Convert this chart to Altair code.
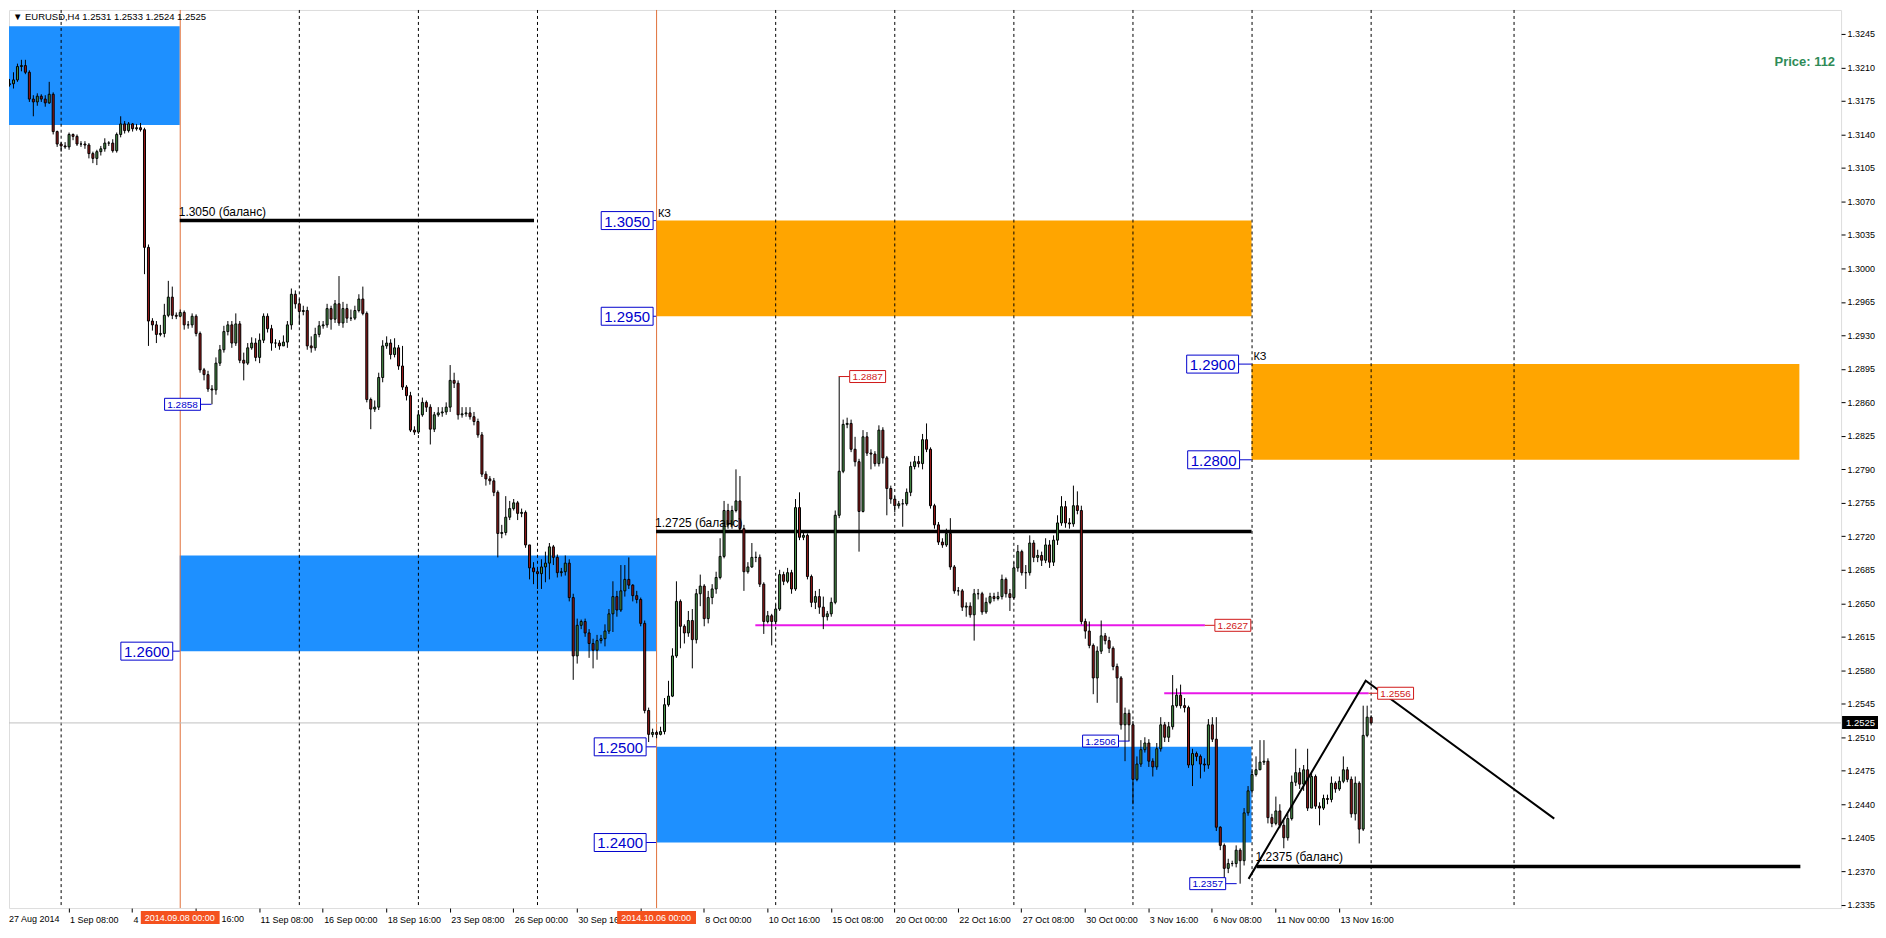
import json
import altair as alt
import pandas as pd

FONT = "Liberation Sans"
W, H = 1836, 900
X_DOMAIN = [1.25, 460.25]
Y_DOMAIN = [1.23315, 1.32701]

# ---------------- candle data (H4, prices in 1/10000) ----------------
first_open = 13192
closes = [
    13193, 13197, 13211, 13212, 13205, 13177, 13174, 13180, 13177, 13173,
    13182, 13143, 13130, 13128, 13127, 13140, 13138, 13130, 13130, 13129,
    13120, 13115, 13122, 13125, 13131, 13131, 13123, 13140, 13151, 13144,
    13151, 13146, 13147, 13145, 13022, 12945, 12941, 12931, 12932, 12951,
    12970, 12951, 12950, 12954, 12941, 12941, 12950, 12932, 12894, 12889,
    12874, 12873, 12901, 12915, 12934, 12941, 12922, 12942, 12904, 12901,
    12917, 12922, 12907, 12925, 12950, 12937, 12922, 12922, 12919, 12923,
    12941, 12973, 12963, 12955, 12956, 12919, 12917, 12931, 12940, 12941,
    12958, 12947, 12963, 12943, 12958, 12948, 12948, 12956, 12968, 12953,
    12863, 12853, 12855, 12886, 12919, 12922, 12910, 12917, 12898, 12876,
    12867, 12831, 12829, 12847, 12860, 12855, 12832, 12847, 12849, 12850,
    12855, 12883, 12880, 12847, 12848, 12849, 12845, 12840, 12826, 12785,
    12780, 12778, 12766, 12723, 12724, 12740, 12749, 12755, 12744, 12745,
    12711, 12687, 12683, 12681, 12688, 12692, 12709, 12698, 12682, 12683,
    12692, 12656, 12595, 12627, 12631, 12619, 12608, 12601, 12611, 12613,
    12621, 12639, 12657, 12643, 12663, 12675, 12669, 12658, 12654, 12629,
    12538, 12513, 12515, 12513, 12516, 12544, 12553, 12595, 12652, 12626,
    12619, 12632, 12612, 12660, 12668, 12634, 12656, 12665, 12677, 12699,
    12747, 12732, 12747, 12757, 12728, 12683, 12688, 12698, 12698, 12670,
    12631, 12637, 12631, 12644, 12680, 12673, 12682, 12665, 12750, 12719,
    12721, 12678, 12651, 12657, 12646, 12636, 12639, 12651, 12742, 12788,
    12837, 12838, 12811, 12798, 12746, 12824, 12807, 12806, 12796, 12831,
    12802, 12770, 12759, 12752, 12754, 12754, 12766, 12793, 12798, 12796,
    12821, 12811, 12752, 12732, 12714, 12711, 12723, 12688, 12663, 12663,
    12646, 12647, 12638, 12660, 12660, 12641, 12651, 12657, 12655, 12657,
    12675, 12660, 12656, 12687, 12704, 12682, 12682, 12713, 12698, 12700,
    12695, 12711, 12693, 12716, 12734, 12751, 12734, 12733, 12752, 12747,
    12631, 12621, 12606, 12572, 12600, 12616, 12611, 12603, 12584, 12572,
    12523, 12535, 12523, 12466, 12482, 12497, 12504, 12485, 12479, 12498,
    12523, 12510, 12521, 12543, 12554, 12543, 12541, 12481, 12493, 12490,
    12482, 12481, 12523, 12508, 12416, 12397, 12373, 12378, 12378, 12392,
    12381, 12431, 12454, 12471, 12476, 12484, 12485, 12426, 12420, 12433,
    12418, 12405, 12425, 12463, 12473, 12461, 12476, 12436, 12469, 12438,
    12436, 12446, 12445, 12462, 12456, 12464, 12476, 12466, 12430, 12462,
    12414, 12512, 12531, 12525,
]
highs = [
    13198, 13205, 13214, 13218, 13218, 13207, 13181, 13183, 13182, 13181,
    13195, 13184, 13144, 13132, 13132, 13142, 13141, 13140, 13133, 13133,
    13131, 13122, 13124, 13128, 13136, 13133, 13135, 13142, 13159, 13154,
    13153, 13152, 13151, 13152, 13147, 13025, 12948, 12945, 12941, 12963,
    12987, 12981, 12954, 12957, 12956, 12945, 12953, 12952, 12934, 12896,
    12893, 12878, 12907, 12920, 12940, 12945, 12945, 12953, 12945, 12912,
    12922, 12928, 12927, 12932, 12953, 12953, 12941, 12926, 12925, 12930,
    12945, 12979, 12977, 12968, 12961, 12960, 12929, 12938, 12945, 12945,
    12963, 12961, 12967, 12992, 12965, 12963, 12957, 12961, 12973, 12981,
    12955, 12865, 12862, 12891, 12925, 12929, 12926, 12927, 12920, 12919,
    12878, 12871, 12835, 12852, 12865, 12862, 12858, 12850, 12855, 12855,
    12860, 12899, 12891, 12883, 12855, 12855, 12855, 12850, 12843, 12829,
    12788, 12783, 12781, 12768, 12732, 12762, 12757, 12759, 12757, 12749,
    12747, 12711, 12693, 12687, 12696, 12704, 12713, 12711, 12701, 12687,
    12700, 12696, 12660, 12634, 12633, 12634, 12623, 12613, 12617, 12617,
    12628, 12644, 12673, 12663, 12690, 12690, 12698, 12670, 12663, 12656,
    12632, 12541, 12519, 12517, 12521, 12551, 12569, 12603, 12673, 12654,
    12628, 12642, 12644, 12665, 12680, 12670, 12663, 12670, 12683, 12718,
    12757, 12754, 12752, 12790, 12783, 12732, 12693, 12713, 12704, 12701,
    12672, 12642, 12639, 12649, 12685, 12683, 12687, 12685, 12759, 12766,
    12726, 12723, 12680, 12663, 12665, 12657, 12642, 12656, 12747, 12887,
    12842, 12844, 12842, 12824, 12801, 12831, 12829, 12811, 12809, 12836,
    12834, 12804, 12773, 12762, 12757, 12759, 12770, 12798, 12804, 12804,
    12827, 12838, 12813, 12754, 12735, 12718, 12728, 12739, 12690, 12667,
    12665, 12651, 12651, 12665, 12665, 12662, 12656, 12661, 12661, 12662,
    12680, 12677, 12665, 12693, 12711, 12706, 12690, 12721, 12716, 12706,
    12704, 12718, 12716, 12721, 12742, 12762, 12757, 12739, 12773, 12767,
    12752, 12634, 12631, 12608, 12605, 12632, 12619, 12615, 12605, 12587,
    12574, 12541, 12539, 12527, 12490, 12507, 12510, 12508, 12488, 12504,
    12531, 12526, 12526, 12575, 12561, 12565, 12551, 12543, 12498, 12495,
    12492, 12488, 12529, 12531, 12531, 12417, 12399, 12383, 12381, 12397,
    12394, 12436, 12459, 12477, 12490, 12507, 12507, 12488, 12430, 12448,
    12440, 12423, 12430, 12470, 12498, 12478, 12481, 12498, 12474, 12471,
    12442, 12450, 12450, 12469, 12464, 12469, 12490, 12479, 12469, 12469,
    12464, 12543, 12543, 12533,
]
lows = [
    13190, 13188, 13195, 13206, 13203, 13174, 13159, 13170, 13174, 13169,
    13172, 13140, 13127, 13122, 13125, 13124, 13134, 13128, 13127, 13125,
    13115, 13110, 13108, 13118, 13122, 13128, 13121, 13121, 13137, 13141,
    13142, 13143, 13144, 13143, 12994, 12919, 12935, 12922, 12929, 12928,
    12949, 12947, 12947, 12949, 12936, 12937, 12938, 12929, 12891, 12883,
    12871, 12858, 12868, 12898, 12912, 12930, 12917, 12919, 12901, 12883,
    12899, 12915, 12903, 12901, 12922, 12933, 12914, 12917, 12915, 12919,
    12917, 12936, 12958, 12941, 12951, 12915, 12912, 12914, 12928, 12937,
    12938, 12936, 12943, 12940, 12938, 12943, 12945, 12946, 12954, 12951,
    12860, 12832, 12850, 12852, 12881, 12916, 12905, 12907, 12894, 12873,
    12862, 12829, 12826, 12827, 12845, 12850, 12816, 12829, 12845, 12845,
    12847, 12850, 12875, 12842, 12844, 12845, 12842, 12836, 12823, 12782,
    12773, 12774, 12762, 12698, 12718, 12721, 12737, 12747, 12737, 12740,
    12708, 12675, 12670, 12665, 12665, 12672, 12675, 12690, 12677, 12678,
    12679, 12652, 12570, 12587, 12623, 12615, 12593, 12582, 12591, 12608,
    12605, 12618, 12620, 12636, 12641, 12657, 12665, 12652, 12650, 12626,
    12535, 12505, 12510, 12509, 12512, 12513, 12542, 12552, 12593, 12603,
    12608, 12615, 12582, 12608, 12647, 12626, 12629, 12649, 12660, 12675,
    12697, 12728, 12728, 12745, 12726, 12663, 12681, 12687, 12693, 12667,
    12618, 12629, 12606, 12628, 12642, 12669, 12671, 12660, 12663, 12716,
    12716, 12675, 12646, 12644, 12639, 12623, 12632, 12636, 12649, 12739,
    12786, 12833, 12808, 12793, 12704, 12745, 12804, 12790, 12793, 12793,
    12796, 12742, 12754, 12745, 12749, 12730, 12752, 12762, 12790, 12792,
    12790, 12808, 12749, 12728, 12711, 12708, 12709, 12685, 12660, 12658,
    12642, 12636, 12635, 12611, 12654, 12638, 12639, 12649, 12652, 12653,
    12654, 12656, 12642, 12654, 12683, 12679, 12665, 12679, 12693, 12693,
    12689, 12692, 12687, 12689, 12711, 12731, 12729, 12728, 12730, 12743,
    12628, 12613, 12603, 12555, 12546, 12597, 12607, 12598, 12580, 12546,
    12518, 12485, 12506, 12440, 12464, 12479, 12494, 12479, 12469, 12476,
    12495, 12505, 12505, 12518, 12541, 12540, 12536, 12478, 12459, 12485,
    12467, 12474, 12477, 12505, 12412, 12392, 12363, 12368, 12375, 12374,
    12357, 12376, 12428, 12451, 12469, 12479, 12481, 12420, 12416, 12418,
    12415, 12394, 12402, 12423, 12459, 12456, 12454, 12433, 12436, 12435,
    12418, 12434, 12440, 12442, 12452, 12454, 12462, 12463, 12426, 12423,
    12399, 12412, 12510, 12524,
]

# ---------------- axis labels (as far as they are visible) ----------------
x_tick_bars = [15, 31, 47, 63, 79, 95, 111, 127, 143, 159, 175,
               191, 207, 223, 239, 255, 271, 287, 303, 319, 335]
x_tick_labels = ["1 Sep 08:00", "4", "", "11 Sep 08:00",
                 "16 Sep 00:00", "18 Sep 16:00", "23 Sep 08:00", "26 Sep 00:00",
                 "30 Sep 16", "", "8 Oct 00:00", "10 Oct 16:00",
                 "15 Oct 08:00", "20 Oct 00:00", "22 Oct 16:00", "27 Oct 08:00",
                 "30 Oct 00:00", "3 Nov 16:00", "6 Nov 08:00", "11 Nov 00:00",
                 "13 Nov 16:00"]
partial_label_bar = [47]
partial_label_text = ["16:00"]
first_date_label = "27 Aug 2014"
y_ticks = [1.2335, 1.2370, 1.2405, 1.2440, 1.2475, 1.2510, 1.2545, 1.2580,
           1.2615, 1.2650, 1.2685, 1.2720, 1.2755, 1.2790, 1.2825, 1.2860,
           1.2895, 1.2930, 1.2965, 1.3000, 1.3035, 1.3070, 1.3105, 1.3140,
           1.3175, 1.3210, 1.3245]

# ---------------- drawn objects ----------------
zone_start = [-2, 43, 163, 163, 313]
zone_end = [43, 163, 313, 313, 451]
zone_low = [1.3150, 1.2600, 1.2400, 1.2950, 1.2800]
zone_high = [1.3253, 1.2700, 1.2500, 1.3050, 1.2900]
zone_kind = ["blue", "blue", "blue", "orange", "orange"]

grid_bars = [13, 73, 103, 133, 193, 223, 253, 283, 313, 343, 379]
marker_bars = [43, 163]
marker_dates = ["2014.09.08 00:00", "2014.10.06 00:00"]

balance_price = [1.3050, 1.2725, 1.2375]
balance_start = [43, 163, 314.25]
balance_end = [132.25, 313, 451.25]
balance_text = ["1.3050 (баланс)", "1.2725 (баланс)", "1.2375 (баланс)"]

level_price = [1.2627, 1.2556]
level_start = [188, 291]
level_end = [301.25, 342.5]

kz_bars = [163, 313]
kz_price = [1.3050, 1.2900]
kz_text = ["КЗ", "КЗ"]

tri_bars = [312.25, 341.75, 389.25]
tri_price = [1.2362, 1.2569, 1.2425]

big_label_text = ["1.2600", "1.3050", "1.2950", "1.2500", "1.2400", "1.2900", "1.2800"]
big_label_price = [1.2600, 1.3050, 1.2950, 1.2500, 1.2400, 1.2900, 1.2800]
big_label_bar = [43, 163, 163, 163, 163, 313, 313]

small_label_text = ["1.2858", "1.2887", "1.2506", "1.2627", "1.2357", "1.2556"]
small_label_price = [1.2858, 1.2887, 1.2506, 1.2627, 1.2357, 1.2556]
small_label_bar = [51, 209, 282.25, 301.25, 309.25, 342.5]
small_label_kind = ["low", "high", "low", "high", "low", "high"]

current_price = 1.2525
header_text = "▼ EURUSD,H4  1.2531 1.2533 1.2524 1.2525"
price_note = "Price: 112"

# ---------------- styles ----------------
BLUE_ZONE = "#1E90FF"
ORANGE_ZONE = "#FFA500"
BULL = "#4A944A"
BEAR = "#961919"
MAGENTA = "#E818E8"
LBL_BLUE = "#0000CD"
LBL_RED = "#D01818"
VLINE = "#E0703A"
MARKER_BG = "#F4511E"
big_gap = [7, 3, 3, 10, 10, 13, 12]
small_gap = [11, 11, 11, 10, 11, 9]

xs = alt.Scale(domain=X_DOMAIN, nice=False, zero=False)
ys = alt.Scale(domain=Y_DOMAIN, nice=False, zero=False)

x_axis = alt.Axis(values=x_tick_bars,
                  labelExpr=f"{json.dumps(x_tick_labels, ensure_ascii=False)}[indexof({json.dumps(x_tick_bars)}, datum.value)]",
                  orient="bottom", tickSize=4, tickColor="black", labelAlign="left",
                  labelBaseline="top", labelPadding=3, labelOffset=1, labelFont=FONT,
                  labelFontSize=9, labelColor="black", domain=False, grid=False,
                  title=None, labelOverlap=False, labelFlush=False, labelBound=False, zindex=0)
y_axis = alt.Axis(values=y_ticks, format=".4f", orient="right", tickSize=4,
                  tickColor="black", labelPadding=2, labelFont=FONT, labelFontSize=9,
                  labelColor="black", domain=False, grid=False, title=None,
                  labelOverlap=False, labelFlush=False, labelBound=False, zindex=0)


def X(f):
    return alt.X(f, type="quantitative", scale=xs, axis=x_axis)


def Y(f):
    return alt.Y(f, type="quantitative", scale=ys, axis=y_axis)


# ---------------- frames ----------------
n = len(closes)
opens = [first_open] + closes[:-1]
rows = []
for i in range(n):
    o, c = opens[i] / 1e4, closes[i] / 1e4
    h = max(highs[i] / 1e4, o, c)
    l = min(lows[i] / 1e4, o, c)
    rows.append(dict(i=i, o=o, c=c, h=h, l=l, top=max(o, c), bot=min(o, c),
                     dir="up" if c >= o else "down"))
cdf = pd.DataFrame(rows)

zdf = pd.DataFrame(dict(s=zone_start, e=zone_end, lo=zone_low, hi=zone_high, k=zone_kind))

layers = []
layers.append(alt.Chart(zdf).mark_rect(clip=True).encode(
    x=X("s"), x2="e", y=Y("lo"), y2="hi",
    fill=alt.condition(alt.datum.k == "blue", alt.value(BLUE_ZONE), alt.value(ORANGE_ZONE))))

gdf = pd.DataFrame(dict(b=grid_bars))
layers.append(alt.Chart(gdf).mark_rule(color="black", strokeWidth=1, strokeDash=[3, 3],
                                       xOffset=0.5).encode(x=X("b")))
mdf = pd.DataFrame(dict(b=marker_bars, t=marker_dates))
layers.append(alt.Chart(mdf).mark_rule(color=VLINE, strokeWidth=1, xOffset=0.5).encode(x=X("b")))

pdf = pd.DataFrame(dict(p=[current_price]))
layers.append(alt.Chart(pdf).mark_rule(color="#C0C0C0", strokeWidth=1).encode(y=Y("p")))

bdf = pd.DataFrame(dict(s=balance_start, e=balance_end, p=balance_price, t=balance_text))
layers.append(alt.Chart(bdf).mark_rule(color="black", strokeWidth=3.5, clip=True).encode(
    x=X("s"), x2="e", y=Y("p")))
ldf = pd.DataFrame(dict(s=level_start, e=level_end, p=level_price))
layers.append(alt.Chart(ldf).mark_rule(color=MAGENTA, strokeWidth=2).encode(
    x=X("s"), x2="e", y=Y("p")))

# candles
layers.append(alt.Chart(cdf).mark_rule(color="black", strokeWidth=1, xOffset=0.5, clip=True).encode(
    x=X("i"), y=Y("l"), y2="h"))
layers.append(alt.Chart(cdf).mark_bar(size=2, xOffset=0.5, stroke="black", strokeWidth=1,
                                      clip=True).encode(
    x=X("i"), y=Y("bot"), y2="top",
    fill=alt.condition(alt.datum.dir == "up", alt.value(BULL), alt.value(BEAR))))

# triangle sketch
tdf = pd.DataFrame(dict(b=tri_bars, p=tri_price, k=list(range(len(tri_bars)))))
layers.append(alt.Chart(tdf).mark_line(color="black", strokeWidth=2).encode(
    x=X("b"), y=Y("p"), order="k:Q"))

# texts for balance lines and KZ
layers.append(alt.Chart(bdf).mark_text(font=FONT, fontSize=12, color="black", align="left",
                                       baseline="alphabetic", dy=-5, dx=-1).encode(
    x=X("s"), y=Y("p"), text="t"))
kdf = pd.DataFrame(dict(b=kz_bars, p=kz_price, t=kz_text))
layers.append(alt.Chart(kdf).mark_text(font=FONT, fontSize=11, color="black", align="left",
                                       baseline="alphabetic", dx=2, dy=-4).encode(
    x=X("b"), y=Y("p"), text="t"))

# big price labels
for txt, p, b, gap in zip(big_label_text, big_label_price, big_label_bar, big_gap):
    d = alt.Chart(pd.DataFrame(dict(b=[b], p=[p], t=[txt])))
    layers.append(d.mark_rule(color=LBL_BLUE, strokeWidth=1, xOffset=-gap, x2Offset=0).encode(
        x=X("b"), x2="b", y=Y("p")))
    layers.append(d.mark_rect(fill="white", stroke=LBL_BLUE, strokeWidth=1,
                              xOffset=-(gap + 52), x2Offset=-gap, yOffset=-9, y2Offset=9).encode(
        x=X("b"), x2="b", y=Y("p"), y2="p"))
    layers.append(d.mark_text(font=FONT, fontSize=15, color=LBL_BLUE, align="center",
                              baseline="middle", dx=-(gap + 26), dy=1).encode(
        x=X("b"), y=Y("p"), text="t"))

# small price labels
for txt, p, b, kind, gap in zip(small_label_text, small_label_price, small_label_bar,
                                small_label_kind, small_gap):
    col = LBL_BLUE if kind == "low" else LBL_RED
    d = alt.Chart(pd.DataFrame(dict(b=[b], p=[p], t=[txt])))
    if kind == "low":
        r_off, box = (-gap, 0), (-(gap + 36), -gap)
        tdx = -(gap + 18)
    else:
        r_off, box = (0, gap), (gap, gap + 36)
        tdx = gap + 18
    layers.append(d.mark_rule(color=col, strokeWidth=1, xOffset=r_off[0], x2Offset=r_off[1]).encode(
        x=X("b"), x2="b", y=Y("p")))
    layers.append(d.mark_rect(fill="white", stroke=col, strokeWidth=1,
                              xOffset=box[0], x2Offset=box[1], yOffset=-6, y2Offset=6).encode(
        x=X("b"), x2="b", y=Y("p"), y2="p"))
    layers.append(d.mark_text(font=FONT, fontSize=10, color=col, align="center",
                              baseline="middle", dx=tdx, dy=0.5).encode(
        x=X("b"), y=Y("p"), text="t"))

# header and note
one = alt.Chart(pd.DataFrame(dict(t=[header_text])))
layers.append(one.mark_text(font=FONT, fontSize=9.5, color="black", align="left",
                            baseline="top").encode(x=alt.value(4), y=alt.value(2), text="t"))
note = alt.Chart(pd.DataFrame(dict(t=[price_note])))
layers.append(note.mark_text(font=FONT, fontSize=13, fontWeight="bold", color="#2E8B57",
                             align="right", baseline="middle").encode(
    x=alt.value(W - 6), y=alt.value(52), text="t"))

# first date and partly hidden date on the time axis
fd = alt.Chart(pd.DataFrame(dict(t=[first_date_label])))
layers.append(fd.mark_text(font=FONT, fontSize=9, color="black", align="left",
                           baseline="top").encode(x=alt.value(0), y=alt.value(H + 7), text="t"))
pl = alt.Chart(pd.DataFrame(dict(b=partial_label_bar, t=partial_label_text)))
layers.append(pl.mark_text(font=FONT, fontSize=9, color="black", align="left",
                           baseline="top", dx=26).encode(x=X("b"), y=alt.value(H + 7), text="t"))

# highlighted vertical-line dates on the time axis
md = alt.Chart(mdf)
layers.append(md.mark_rect(color=MARKER_BG, xOffset=-39, x2Offset=40).encode(
    x=X("b"), x2="b", y=alt.value(H + 3), y2=alt.value(H + 16)))
layers.append(md.mark_text(font=FONT, fontSize=9, color="white", align="center",
                           baseline="middle").encode(x=X("b"), y=alt.value(H + 9.5), text="t"))

# current price on the price axis
cp = alt.Chart(pd.DataFrame(dict(p=[current_price], t=[f"{current_price:.4f}"])))
layers.append(cp.mark_rect(color="black", yOffset=-7, y2Offset=6).encode(
    x=alt.value(W + 1), x2=alt.value(W + 37), y=Y("p"), y2="p"))
layers.append(cp.mark_text(font=FONT, fontSize=9.5, color="white", align="left",
                           baseline="middle").encode(x=alt.value(W + 5), y=Y("p"), text="t"))

chart = alt.layer(*layers).properties(width=W, height=H, padding=0).configure_view(
    stroke="black", strokeWidth=1
).configure(background="white")

chart.save("out.html", embed_options={"renderer": "svg", "actions": False})
